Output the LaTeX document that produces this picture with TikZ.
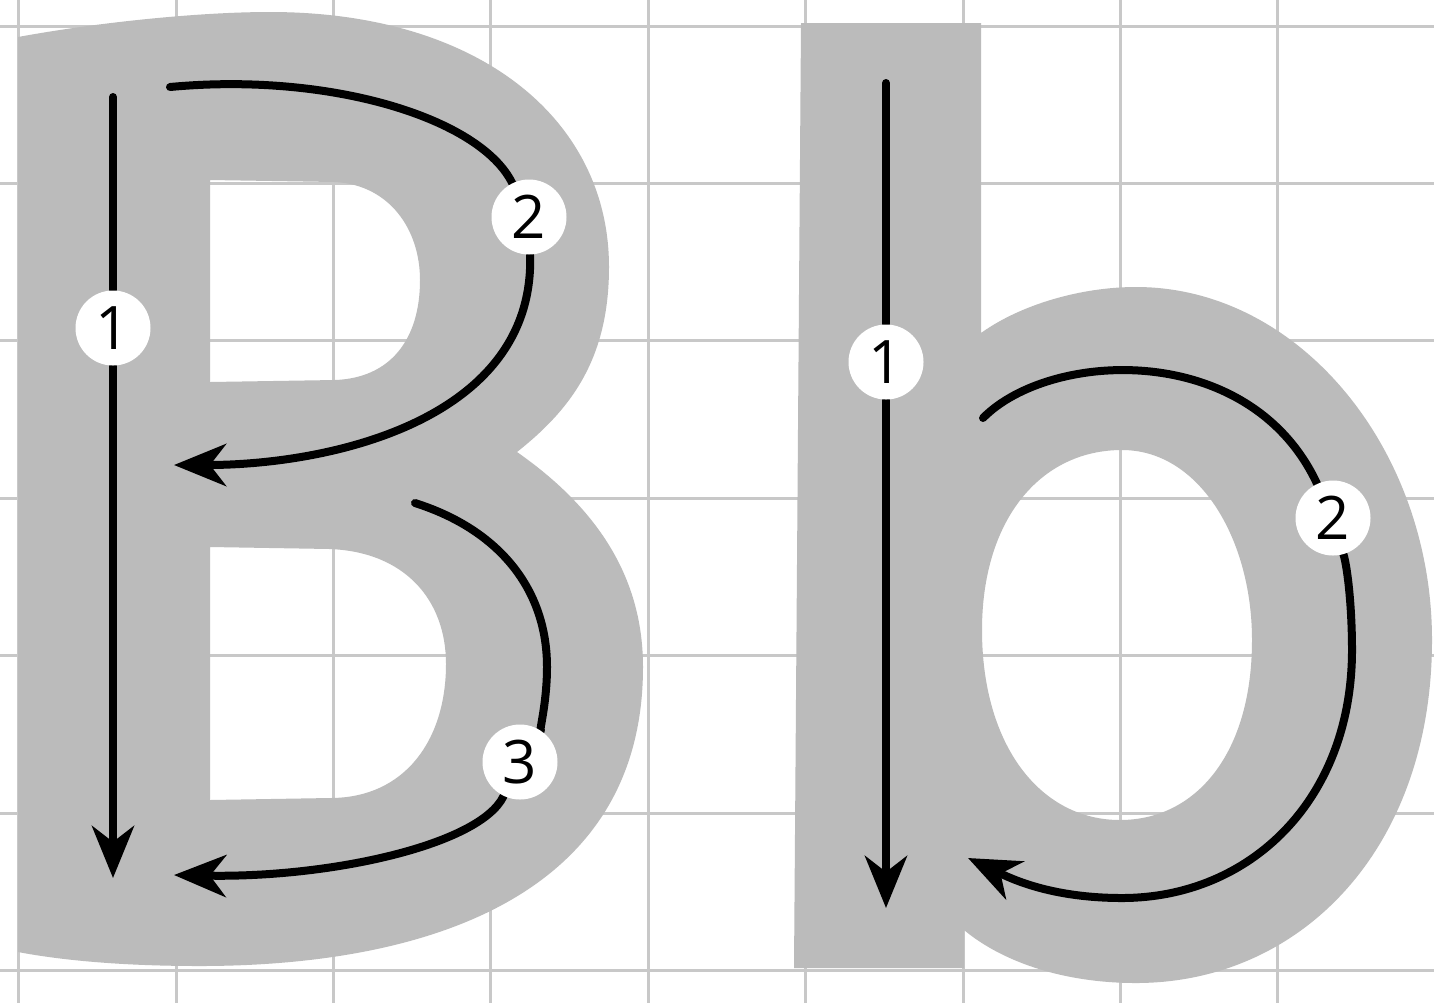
\documentclass[tikz,border=0pt]{standalone}
\usepackage{fontspec}
\newfontfamily\numfont{Open Sans}
\usetikzlibrary{arrows.meta}
\definecolor{gridgray}{HTML}{C8C8C8}
\definecolor{lettergray}{HTML}{BBBBBB}
\pgfdeclarelayer{front}
\pgfsetlayers{main,front}
\begin{document}
\begin{tikzpicture}[x=0.5pt,y=-0.5pt,
  gridline/.style={gridgray, line width=1.5pt},
  letter/.style={fill=lettergray, even odd rule},
  stroke/.style={line width=4pt, line cap=round},
  arr/.style={stroke, -{Stealth[length=26pt,width=21pt,inset=8pt]}},
  num/.style={circle, fill=white, minimum size=37.5pt, inner sep=0pt, font=\numfont\fontsize{30}{30}\selectfont}]
\useasboundingbox (0,0) rectangle (1434,1003);
\fill[white] (0,0) rectangle (1434,1003);
% grid
\foreach \i in {0,...,9} { \draw[gridline] ({18.75+157.4*\i},0) -- ({18.75+157.4*\i},1003); }
\foreach \j in {0,...,6} { \draw[gridline] (0,{26+157.4*\j}) -- (1434,{26+157.4*\j}); }
% letter B
\path[letter] (18,37) .. controls (100,22) and (200,12) .. (270,12)
  .. controls (480,12) and (609,120) .. (609,267)
  .. controls (609,360) and (570,410) .. (517,452)
  .. controls (600,510) and (643,580) .. (643,667)
  .. controls (643,900) and (420,966) .. (200,966)
  .. controls (120,966) and (60,960) .. (18,952) -- cycle
  (210,180) -- (335,182) .. controls (390,185) and (420,230) .. (420,280)
  .. controls (420,340) and (390,378) .. (335,380) -- (210,382) -- cycle
  (210,547) -- (330,549) .. controls (405,552) and (446,600) .. (446,664)
  .. controls (446,740) and (405,798) .. (330,798) -- (210,800) -- cycle;
% letter b
\path[letter] (801,23) -- (981,23) -- (981,333)
  .. controls (1020,305) and (1080,287) .. (1136,287)
  .. controls (1300,287) and (1432,450) .. (1432,640)
  .. controls (1432,850) and (1300,983) .. (1136,983)
  .. controls (1060,983) and (1000,960) .. (964,930) -- (964,968) -- (794,968) -- cycle
  (1122,450) .. controls (1200,450) and (1252,540) .. (1252,640)
  .. controls (1252,755) and (1195,820) .. (1120,820)
  .. controls (1040,820) and (982,745) .. (982,630)
  .. controls (982,520) and (1040,450) .. (1122,450) -- cycle;
% numbered circles
\begin{pgfonlayer}{front}
\node[num] (B1n) at (113,328) {1};
\node[num] (B2n) at (529,217) {2};
\node[num] (B3n) at (520,762) {3};
\node[num] (b1n) at (886,362) {1};
\node[num] (b2n) at (1333,518) {2};
\end{pgfonlayer}
% stroke ends
\coordinate (B1s) at (113,97);
\coordinate (B1e) at (113,878);
\coordinate (B2s) at (170,87);
\coordinate (B2e) at (174,465);
\coordinate (B3s) at (415,503);
\coordinate (B3e) at (174,875);
\coordinate (b1s) at (886,83);
\coordinate (b1e) at (886,908);
\coordinate (b2s) at (983,418);
\coordinate (b2e) at (968,858);
% B strokes
\draw[stroke] (B1s) -- (B1n);
\draw[arr] (B1n) -- (B1e);
\draw[stroke] (B2s) .. controls (330,72) and (480,118) .. (B2n);
\draw[arr] (B2n) .. controls (535,420) and (330,465) .. (B2e);
\draw[stroke] (B3s) .. controls (500,530) and (547,590) .. (547,667) .. controls (547,705) and (538,735) .. (B3n);
\draw[arr] (B3n) .. controls (480,845) and (330,878) .. (B3e);
% b strokes
\draw[stroke] (b1s) -- (b1n);
\draw[arr] (b1n) -- (b1e);
\draw[stroke] (b2s) .. controls (1050,350) and (1250,340) .. (b2n);
\draw[arr] (b2n) .. controls (1348,570) and (1352,610) .. (1352,650)
  .. controls (1352,800) and (1250,898) .. (1122,898)
  .. controls (1050,898) and (1010,878) .. (b2e);
\end{tikzpicture}
\end{document}
